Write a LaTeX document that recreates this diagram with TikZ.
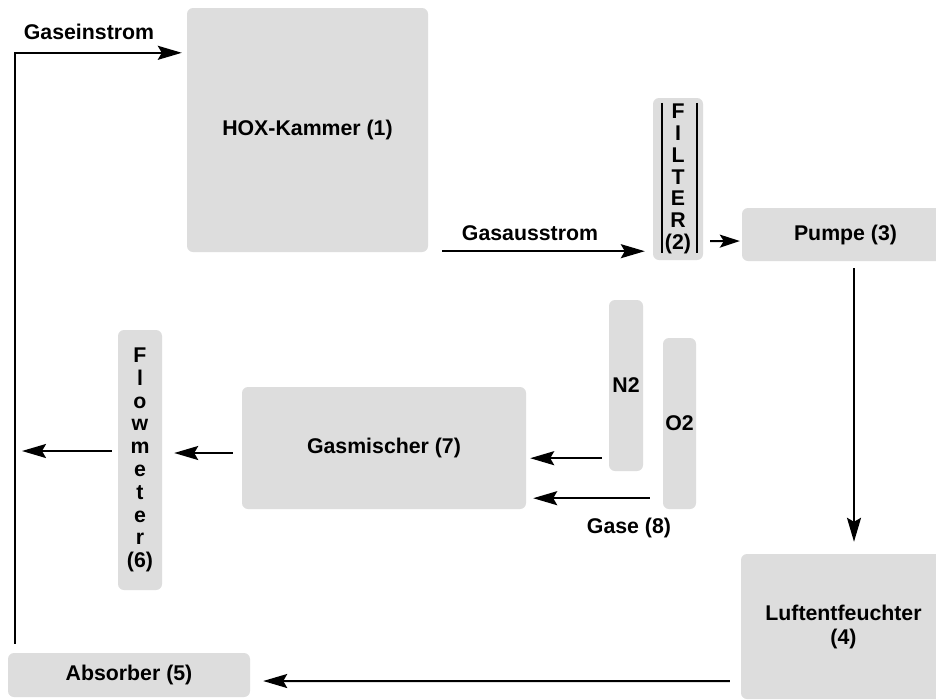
\documentclass[tikz,border=0pt]{standalone}
\usepackage{fontspec}
\setmainfont{Liberation Sans}
\usetikzlibrary{arrows.meta}
\definecolor{boxgray}{RGB}{221,221,221}
\tikzset{
  box/.style={fill=boxgray, rounded corners=6pt, inner sep=0pt, align=center,
    font=\bfseries\fontsize{21.3}{24}\selectfont},
  arr/.style={line width=2pt, -{Stealth[length=24pt,width=14pt,inset=4pt]}},
  sarr/.style={line width=2pt, -{Stealth[length=20pt,width=13pt,inset=4pt]}},
  lab/.style={inner sep=0pt, font=\bfseries\fontsize{21.3}{24}\selectfont},
  fline/.style={line width=2pt}
}
\begin{document}
\begin{tikzpicture}[x=1pt,y=-1pt]
\clip (0,0) rectangle (936,699);
\fill[white] (0,0) rectangle (936,699);
% boxes
\node[box, minimum width=241, minimum height=244] (hox) at (307.5,130) {HOX-Kammer (1)};
\node[box, minimum width=50, minimum height=162, font=\bfseries\fontsize{21.3}{21.8}\selectfont] (filt) at (678,179) {F\\I\\L\\T\\E\\R\\(2)};
\node[box, minimum width=207, minimum height=53] (pump) at (845.5,234.5) {Pumpe (3)};
\node[box, minimum width=34, minimum height=171] (n2) at (626,385.5) {N2};
\node[box, minimum width=33, minimum height=171] (o2) at (679.5,423.5) {O2};
\node[box, minimum width=284, minimum height=122] (gm) at (384,448) {Gasmischer (7)};
\node[box, minimum width=44, minimum height=260, font=\bfseries\fontsize{21.3}{22.8}\selectfont] (flow) at (140,460) {F\\l\\o\\w\\m\\e\\t\\e\\r\\(6)};
\node[box, minimum width=205, minimum height=145] (luft) at (843.5,626.5) {Luftentfeuchter\\(4)};
\node[box, minimum width=242, minimum height=44] (abs) at (129,675) {Absorber (5)};
% filter lines
\draw[fline] ([xshift=9pt,yshift=-5pt]filt.north west) -- ([xshift=9pt,yshift=7pt]filt.south west);
\draw[fline] ([xshift=-6pt,yshift=-5pt]filt.north east) -- ([xshift=-6pt,yshift=7pt]filt.south east);
% labels
\node[lab] (lein) at (89,32) {Gaseinstrom};
\node[lab] (laus) at (530,233) {Gasausstrom};
\node[lab] (lgase) at (629,528) {Gase (8)};
% connectors
\draw[arr] ([xshift=7pt,yshift=9pt]abs.north west) |- ([xshift=-5pt,yshift=-45pt]hox.north west);
\draw[arr] ([xshift=14pt,yshift=1pt]hox.south east) -- ([xshift=-8pt,yshift=9pt]filt.south west);
\draw[sarr] ([xshift=7pt,yshift=19pt]filt.south east) -- ([xshift=-2pt,yshift=-6.5pt]pump.west);
\draw[arr] ([xshift=8.5pt,yshift=-7pt]pump.south) -- ([xshift=10.5pt,yshift=12pt]luft.north);
\draw[arr] ([xshift=-11pt,yshift=18pt]luft.south west) -- ([xshift=13pt,yshift=-6pt]abs.east);
\draw[arr] ([xshift=-7pt,yshift=13pt]n2.south west) -- ([xshift=4pt,yshift=51pt]gm.south east);
\draw[arr] ([xshift=-13pt,yshift=11pt]o2.south west) -- ([xshift=7pt,yshift=11pt]gm.south east);
\draw[arr] ([xshift=-9pt,yshift=-5pt]gm.west) -- ([xshift=12pt,yshift=7pt]flow.east);
\coordinate (fout) at (22,451);
\draw[arr] ([xshift=-6pt,yshift=9pt]flow.west) -- (fout);
\end{tikzpicture}
\end{document}
